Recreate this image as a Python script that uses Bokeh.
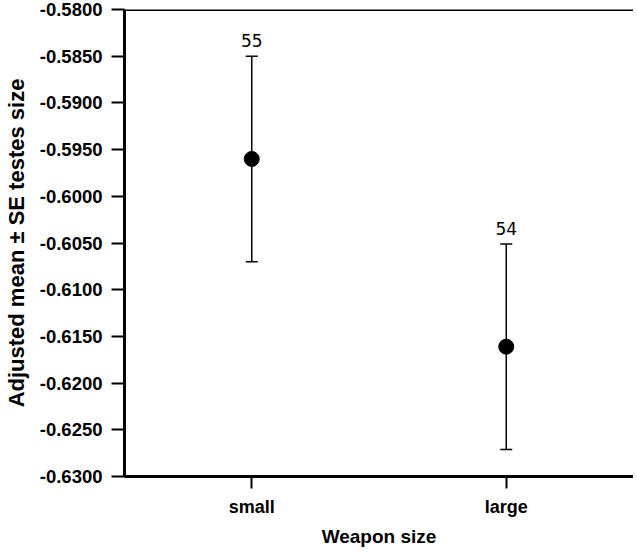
from bokeh.plotting import figure
from bokeh.models import (ColumnDataSource, Whisker, TeeHead, Range1d, FactorRange,
                          FixedTicker, NumeralTickFormatter, Span)
from bokeh.core.properties import value
from bokeh.embed import file_html
from bokeh.resources import INLINE

# ---- data ----
categories = ["small", "large"]
means = [-0.5960, -0.6161]
se = [0.0110, 0.0110]
counts = ["55", "54"]
y_ticks = [-0.6300, -0.6250, -0.6200, -0.6150, -0.6100, -0.6050,
           -0.6000, -0.5950, -0.5900, -0.5850, -0.5800]
x_title = "Weapon size"
y_title = "Adjusted mean \u00b1 SE testes size"

upper = [m + s for m, s in zip(means, se)]
lower = [m - s for m, s in zip(means, se)]
src = ColumnDataSource(dict(cat=categories, mean=means, upper=upper,
                            lower=lower, n=counts))

FONT = "Liberation Sans"

p = figure(frame_width=509, frame_height=467, x_range=FactorRange(*categories),
           y_range=Range1d(y_ticks[0], y_ticks[-1]),
           output_backend="svg", toolbar_location=None,
           min_border_top=9, min_border_right=0, min_border_left=120,
           min_border_bottom=0)
p.outline_line_color = None
p.xgrid.visible = False
p.ygrid.visible = False
p.background_fill_color = "white"
p.border_fill_color = "white"

# error bars
wh = Whisker(source=src, base="cat", upper="upper", lower="lower",
             line_color="black", line_width=1.5,
             upper_head=TeeHead(size=12, line_color="black", line_width=1.5),
             lower_head=TeeHead(size=12, line_color="black", line_width=1.5))
p.add_layout(wh)

p.scatter(x="cat", y="mean", source=src, size=15, color="black")

p.text(x="cat", y="upper", text="n", source=src, y_offset=-9,
       text_align="center", text_baseline="bottom",
       text_font=value("DejaVu Sans"), text_font_size="17px", text_color="black")

# top frame line
p.add_layout(Span(location=y_ticks[-1], dimension="width",
                  line_color="black", line_width=3))

# y axis
ya = p.yaxis[0]
ya.ticker = FixedTicker(ticks=y_ticks, num_minor_ticks=3)
ya.formatter = NumeralTickFormatter(format="0.0000")
ya.axis_line_width = 3
ya.axis_line_color = "black"
ya.major_tick_out = 13
ya.major_tick_in = 0
ya.major_tick_line_width = 2
ya.major_tick_line_color = "black"
ya.minor_tick_out = 5
ya.minor_tick_in = 0
ya.minor_tick_line_width = 1.5
ya.minor_tick_line_color = "black"
ya.major_label_text_font = FONT
ya.major_label_text_font_style = "bold"
ya.major_label_text_font_size = "18.5px"
ya.major_label_text_color = "black"
ya.major_label_standoff = 9
ya.axis_label = y_title
ya.axis_label_text_font = FONT
ya.axis_label_text_font_style = "bold"
ya.axis_label_text_font_size = "22px"
ya.axis_label_text_color = "black"
ya.axis_label_standoff = 8

# x axis
xa = p.xaxis[0]
xa.axis_line_width = 3
xa.axis_line_color = "black"
xa.major_tick_out = 12
xa.major_tick_in = 0
xa.major_tick_line_width = 2
xa.major_tick_line_color = "black"
xa.minor_tick_out = 0
xa.major_label_text_font = FONT
xa.major_label_text_font_style = "bold"
xa.major_label_text_font_size = "18px"
xa.major_label_text_color = "black"
xa.major_label_standoff = 8
xa.axis_label = x_title
xa.axis_label_text_font = FONT
xa.axis_label_text_font_style = "bold"
xa.axis_label_text_font_size = "19px"
xa.axis_label_text_color = "black"
xa.axis_label_standoff = 6

open("out.html", "w").write(file_html(p, INLINE))
